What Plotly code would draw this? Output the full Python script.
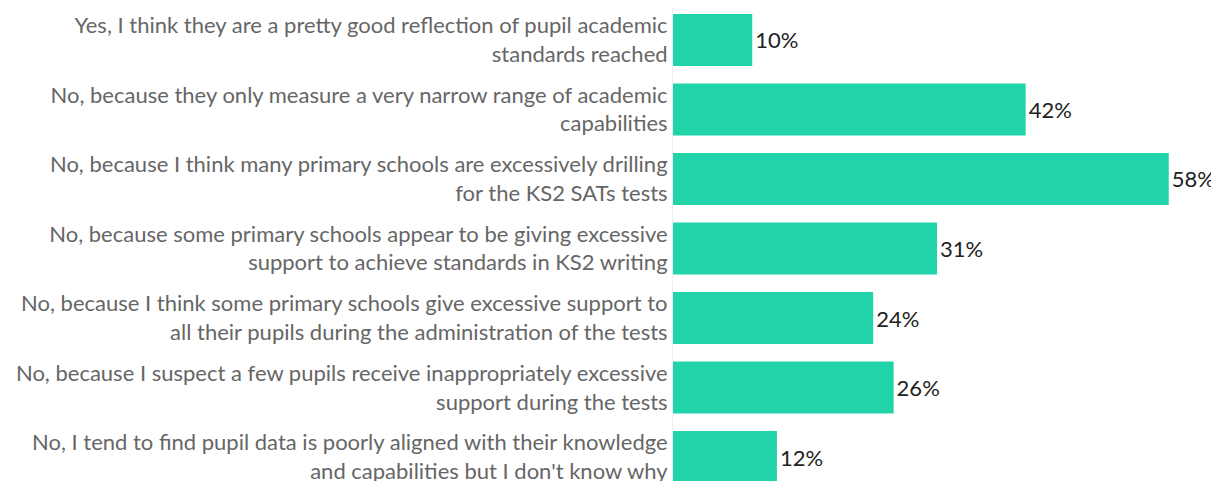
import plotly.graph_objects as go

categories = [
    "Yes, I think they are a pretty good reflection of pupil academic<br>standards reached",
    "No, because they only measure a very narrow range of academic<br>capabilities",
    "No, because I think many primary schools are excessively drilling<br>for the KS2 SATs tests",
    "No, because some primary schools appear to be giving excessive<br>support to achieve standards in KS2 writing",
    "No, because I think some primary schools give excessive support to<br>all their pupils during the administration of the tests",
    "No, because I suspect a few pupils receive inappropriately excessive<br>support during the tests",
    "No, I tend to find pupil data is poorly aligned with their knowledge<br>and capabilities but I don't know why",
]
values = [9.3, 41.4, 58.2, 31.0, 23.5, 25.9, 12.2]
value_labels = ["10%", "42%", "58%", "31%", "24%", "26%", "12%"]

fig = go.Figure(go.Bar(
    y=categories,
    x=values,
    orientation="h",
    marker=dict(color="#20D3A8", line=dict(width=0)),
    width=0.75,
    text=value_labels,
    textposition="outside",
    textfont=dict(family="Lato", size=22, color="#222222"),
    cliponaxis=False,
))

fig.update_layout(
    width=1211, height=473,
    margin=dict(l=665, r=0, t=0, b=0),
    paper_bgcolor="white", plot_bgcolor="white",
    showlegend=False,
    font=dict(family="Lato"),
    xaxis=dict(range=[0, 64.1], visible=False, showgrid=False, zeroline=False),
    yaxis=dict(
        range=[6.345, -0.46],
        tickfont=dict(family="Lato", size=22, color="#666666"),
        showline=True, linecolor="#eeeeee", linewidth=1,
        showgrid=False, zeroline=False,
        ticks="", ticklen=0,
        automargin=False,
    ),
)

fig.write_html("out.html")
